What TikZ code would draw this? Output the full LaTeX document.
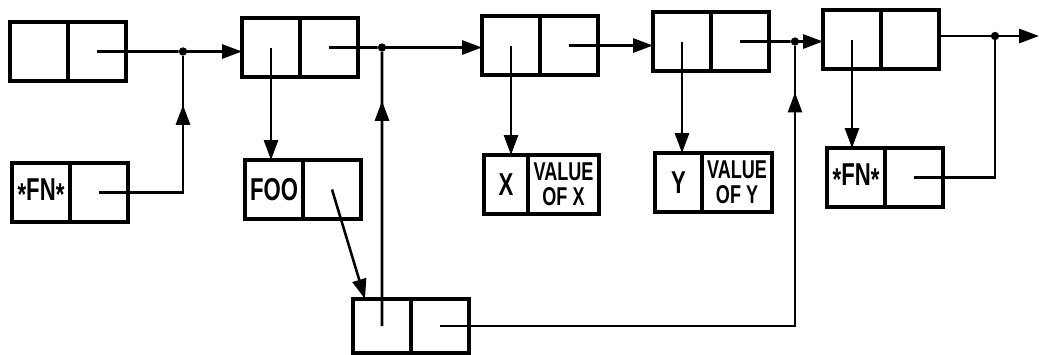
\documentclass[tikz,border=0pt]{standalone}
\usepackage{fontspec}
\usetikzlibrary{arrows.meta,positioning,decorations.markings}
\newfontfamily\cellfont[FakeStretch=0.7]{Liberation Sans}
\newfontfamily\valfont[FakeStretch=0.7]{Liberation Sans}
\newcommand{\lowstar}{\raisebox{-0.3ex}{*}}
\tikzset{
  cell/.style={draw,line width=3pt,minimum width=1.74cm,minimum height=1.77cm,
    inner sep=0pt,outer sep=0pt,anchor=north west,
    font=\cellfont\bfseries\fontsize{27}{27}\selectfont},
  valcell/.style={align=center,font=\valfont\bfseries\fontsize{22}{21}\selectfont},
  link/.style={line width=2.2pt},
  ptr/.style={link,-{Triangle[length=17pt,width=12pt]}},
  uptip/.style={postaction={decorate},decoration={markings,
    mark=at position #1 with {\arrow{Triangle[length=17pt,width=12pt]}}}},
  dot/.style={circle,fill,inner sep=0pt,minimum size=0.25cm}
}
\begin{document}
\begin{tikzpicture}[x=0.03cm,y=-0.03cm]
  \useasboundingbox (0,0) rectangle (1039,354);
  % top row of cells
  \node[cell] (A-l) at (10,22) {};
  \node[cell,right=0pt of A-l] (A-r) {};
  \node[cell] (B-l) at (242,18) {};
  \node[cell,right=0pt of B-l] (B-r) {};
  \node[cell] (C-l) at (482,16) {};
  \node[cell,right=0pt of C-l] (C-r) {};
  \node[cell] (E-l) at (653,12) {};
  \node[cell,right=0pt of E-l] (E-r) {};
  \node[cell] (F-l) at (823,10) {};
  \node[cell,right=0pt of F-l] (F-r) {};
  % second row
  \node[cell] (FN1-l) at (12,163) {\lowstar FN\lowstar};
  \node[cell,right=0pt of FN1-l] (FN1-r) {};
  \node[cell] (FOO-l) at (245,160) {FOO};
  \node[cell,right=0pt of FOO-l] (FOO-r) {};
  \node[cell,minimum width=1.32cm] (X-l) at (484,155) {X};
  \node[cell,valcell,minimum width=2.13cm,right=0pt of X-l] (X-r) {VALUE\\OF X};
  \node[cell,minimum width=1.41cm] (Y-l) at (655,153) {Y};
  \node[cell,valcell,minimum width=2.1cm,right=0pt of Y-l] (Y-r) {VALUE\\OF Y};
  \node[cell] (FN2-l) at (827,148) {\lowstar FN\lowstar};
  \node[cell,right=0pt of FN2-l] (FN2-r) {};
  % bottom cell
  \node[cell,minimum height=1.62cm] (D-l) at (353,299) {};
  \node[cell,minimum height=1.62cm,right=0pt of D-l] (D-r) {};
  % junctions
  \node[dot] (j1) at (183,51.5) {};
  \node[dot] (j2) at (382,47.5) {};
  \node[dot] (j3) at (795,41.5) {};
  \node[dot] (j4) at (995,36) {};
  \coordinate (out) at (1039,36);
  % connectors
  \draw[link] (A-r.center) -- (j1);
  \draw[ptr] (j1) -- (j1 -| B-l.west);
  \draw[link,uptip=-1.47cm] (FN1-r.center) -| (j1);
  \draw[ptr] (B-l.center) -- (B-l.center |- FOO-l.north);
  \draw[link] (B-r.center) -- (j2);
  \draw[ptr] (j2) -- (j2 -| C-l.west);
  \draw[ptr] (FOO-r.center) -- ([xshift=0.36cm]D-l.north west);
  \draw[link,uptip=-1.47cm] (D-l.center) -- (j2);
  \draw[ptr] (C-l.center) -- (C-l.center |- X-l.north);
  \draw[ptr] (C-r.center) -- (C-r.center -| E-l.west);
  \draw[ptr] (E-l.center) -- (E-l.center |- Y-l.north);
  \draw[link] (E-r.center) -- (j3);
  \draw[ptr] (j3) -- (j3 -| F-l.west);
  \draw[link,uptip=-1.4cm] (D-r.center) -| (j3);
  \draw[ptr] (F-l.center) -- (F-l.center |- FN2-l.north);
  \draw[link] (F-r.east |- j4) -- (j4);
  \draw[ptr] (j4) -- (out);
  \draw[link] (FN2-r.center) -| (j4);
\end{tikzpicture}
\end{document}
